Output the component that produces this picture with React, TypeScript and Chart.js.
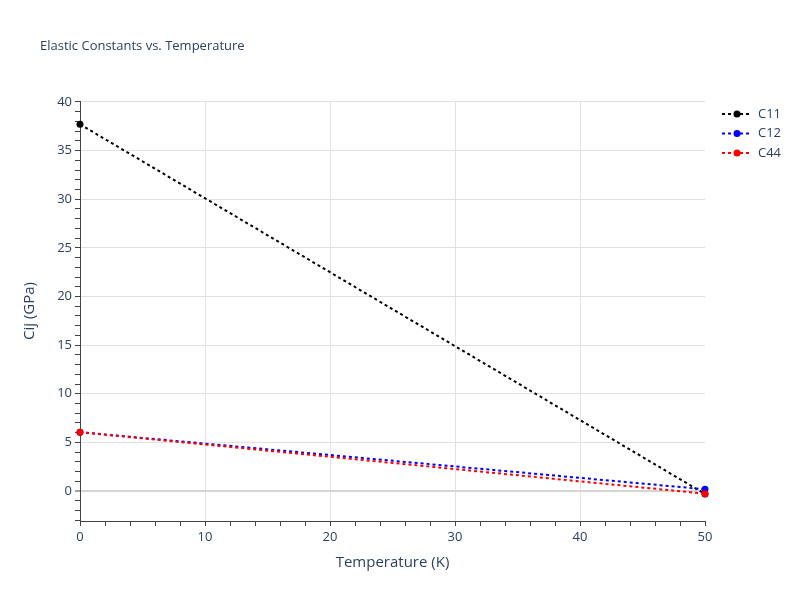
import React, { useEffect, useRef } from "react";
import { Chart, registerables } from "chart.js";

Chart.register(...registerables);

const temperatures = [0, 50];
const c11 = [37.7, -0.3];
const c12 = [6.05, 0.18];
const c44 = [6.05, -0.27];

const seriesNames = ["C11", "C12", "C44"];
const seriesColors = ["#000000", "#0000ff", "#ff0000"];

const titleText = "Elastic Constants vs. Temperature";
const xTitle = "Temperature (K)";
const yTitle = "Cij (GPa)";

const FONT = "'Open Sans', 'Noto Sans', sans-serif";
const TEXT = "#2a3f5f";
const GRID = "#e2e2e2";
const ZERO = "#d4d4d4";
const TICK = "#444444";

const overlayPlugin = {
  id: "overlay",
  afterDraw(chart: any) {
    const ctx = chart.ctx;
    ctx.save();
    ctx.fillStyle = TEXT;
    ctx.font = `13px ${FONT}`;
    ctx.textBaseline = "middle";
    ctx.textAlign = "left";
    ctx.fillText(titleText, 40, 46);

    seriesNames.forEach((name, i) => {
      const y = 114 + i * 19.5;
      ctx.strokeStyle = seriesColors[i];
      ctx.lineWidth = 2;
      ctx.setLineDash([3, 3]);
      ctx.beginPath();
      ctx.moveTo(722, y);
      ctx.lineTo(752, y);
      ctx.stroke();
      ctx.setLineDash([]);
      ctx.fillStyle = seriesColors[i];
      ctx.beginPath();
      ctx.arc(737, y, 3.5, 0, Math.PI * 2);
      ctx.fill();
      ctx.fillStyle = TEXT;
      ctx.font = `13px ${FONT}`;
      ctx.fillText(name, 758, y);
    });
    ctx.restore();
  },
};

export default function App() {
  const canvasRef = useRef<HTMLCanvasElement | null>(null);

  useEffect(() => {
    if (!canvasRef.current) return;
    const mk = (label: string, data: number[], color: string, order: number) => ({
      label,
      data: temperatures.map((t, i) => ({ x: t, y: data[i] })),
      borderColor: color,
      backgroundColor: color,
      borderWidth: 2,
      borderDash: [3, 3],
      pointRadius: 3.5,
      pointBorderWidth: 0,
      pointBackgroundColor: color,
      tension: 0,
      clip: false,
      order,
    });
    const chart = new Chart(canvasRef.current, {
      type: "line",
      data: {
        datasets: [
          mk(seriesNames[0], c11, seriesColors[0], 3),
          mk(seriesNames[1], c12, seriesColors[1], 2),
          mk(seriesNames[2], c44, seriesColors[2], 1),
        ],
      },
      options: {
        animation: false,
        responsive: false,
        layout: { padding: { top: 101, right: 95, left: 0, bottom: 0 } },
        plugins: {
          legend: { display: false },
          title: { display: false },
          tooltip: { enabled: false },
        },
        scales: {
          x: {
            type: "linear",
            min: 0,
            max: 50,
            afterFit: (s: any) => {
              s.height = 79;
            },
            ticks: {
              stepSize: 2,
              autoSkip: false,
              maxRotation: 0,
              includeBounds: false,
              padding: 3,
              color: TEXT,
              font: { family: FONT, size: 13 },
              callback: (v: any) => (Number(v) % 10 === 0 ? String(v) : ""),
            },
            grid: {
              drawTicks: true,
              tickLength: 5,
              tickColor: TICK,
              tickWidth: 1,
              color: (c: any) => {
                const v = c.tick ? c.tick.value : 0;
                return v % 10 === 0 && v !== 0 && v !== 50 ? GRID : "rgba(0,0,0,0)";
              },
              lineWidth: 1,
            },
            border: { display: true, color: TICK, width: 1 },
            title: {
              display: true,
              text: xTitle,
              color: TEXT,
              font: { family: FONT, size: 15 },
              padding: { top: 0, bottom: 28 },
            },
          },
          y: {
            type: "linear",
            min: -3.08,
            max: 40.1,
            afterFit: (s: any) => {
              s.width = 80;
            },
            ticks: {
              stepSize: 1,
              autoSkip: false,
              includeBounds: false,
              padding: 3,
              color: TEXT,
              font: { family: FONT, size: 13 },
              callback: (v: any) => (Number(v) % 5 === 0 ? String(v) : ""),
            },
            grid: {
              drawTicks: true,
              tickLength: 5,
              tickColor: TICK,
              tickWidth: 1,
              color: (c: any) => {
                const v = c.tick ? c.tick.value : 1;
                if (v === 0) return ZERO;
                return v % 5 === 0 ? GRID : "rgba(0,0,0,0)";
              },
              lineWidth: (c: any) => (c.tick && c.tick.value === 0 ? 2 : 1),
            },
            border: { display: true, color: TICK, width: 1 },
            title: {
              display: true,
              text: yTitle,
              color: TEXT,
              font: { family: FONT, size: 15 },
              padding: { top: 21, bottom: 0 },
            },
          },
        },
      },
      plugins: [overlayPlugin],
    } as any);
    return () => chart.destroy();
  }, []);

  return (
    <div style={{ position: "fixed", left: 0, top: 0, width: 800, height: 600, background: "#fff" }}>
      <canvas ref={canvasRef} width={800} height={600} />
    </div>
  );
}
